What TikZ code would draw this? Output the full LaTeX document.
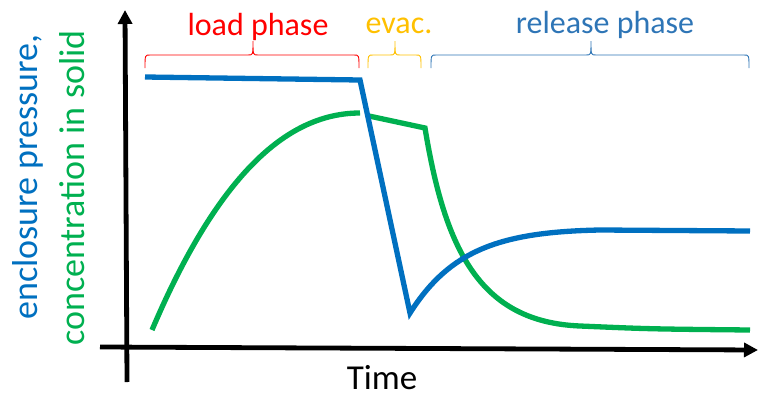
\documentclass[tikz,border=0pt]{standalone}
\usepackage{fontspec}
\setmainfont{Carlito}
\definecolor{cblue}{HTML}{0070C0}
\definecolor{cgreen}{HTML}{00B050}
\definecolor{cred}{HTML}{FF0000}
\definecolor{cgold}{HTML}{FFC000}
\definecolor{crel}{HTML}{2E75B6}
\usetikzlibrary{arrows.meta}
\tikzset{
  axisline/.style={line width=4.8pt,-{Triangle[length=14pt,width=14pt]}},
  curveline/.style={line width=5.3pt},
  bracel/.style={line width=0.9pt},
  lbl/.style={font=\fontsize{32}{36}\selectfont, inner sep=0pt},
  biglbl/.style={font=\fontsize{36}{40}\selectfont, inner sep=0pt}
}
\begin{document}
\begin{tikzpicture}[x=1pt,y=-1pt]
\useasboundingbox (0,0) rectangle (758,399);
% axes
\coordinate (ys) at (127,382);
\coordinate (ye) at (125,10);
\coordinate (xs) at (100,347);
\coordinate (xe) at (758,350);
\draw[axisline] (ys) -- (ye);
\draw[axisline] (xs) -- (xe);
% green curve
\draw[curveline,cgreen] (152,330) .. controls (220,170) and (290,113) .. (360,113);
\draw[curveline,cgreen,line join=miter] (369,116) -- (425,128) .. controls (445,250) and (480,322) .. (580,326) .. controls (650,329) .. (750,330);
% blue curve
\draw[curveline,cblue,line join=miter] (145,77) -- (360,80) -- (410,313) .. controls (450,250) and (500,232) .. (600,230) -- (750,231);
% braces
\draw[bracel,cred] (145,68) .. controls (145,55) .. (150,55) -- (248,55) .. controls (253,55) .. (253,41) .. controls (253,55) .. (258,55) -- (354,55) .. controls (359,55) .. (359,68);
\draw[bracel,cgold] (368,68) .. controls (368,55) .. (373,55) -- (390,55) .. controls (395,55) .. (395,41) .. controls (395,55) .. (400,55) -- (416,55) .. controls (421,55) .. (421,68);
\draw[bracel,crel] (431,68) .. controls (431,55) .. (436,55) -- (586,55) .. controls (591,55) .. (591,41) .. controls (591,55) .. (596,55) -- (744,55) .. controls (749,55) .. (749,68);
% labels
\node[lbl,text=cred] (load) at (258,27) {load phase};
\node[lbl,text=cgold] (evac) at (399,26) {evac.};
\node[lbl,text=crel] (rel) at (605,25) {release phase};
\node[font=\fontsize{35}{38}\selectfont,inner sep=0pt,text=black,anchor=base] (time) at (382,389) {Time};
\node[biglbl,text=cblue,rotate=90] (ylab1) at (28,177) {enclosure pressure,};
\node[biglbl,text=cgreen,rotate=90] (ylab2) at (72,188) {concentration in solid};
\end{tikzpicture}
\end{document}
